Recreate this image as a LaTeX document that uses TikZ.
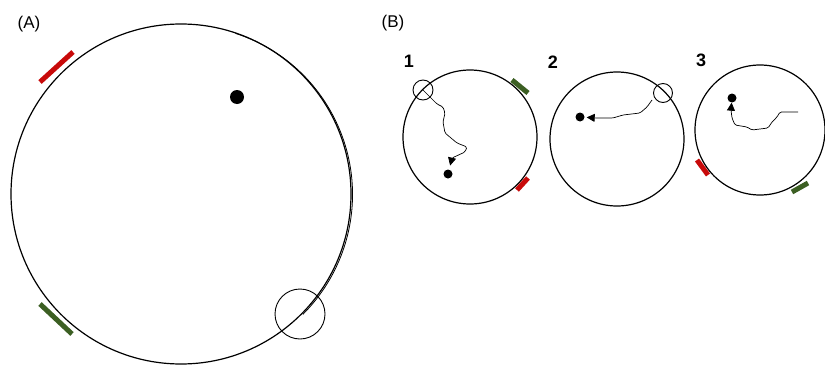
\documentclass[tikz,border=0pt]{standalone}
\usepackage{fontspec}
\setmainfont{Liberation Sans}
\usetikzlibrary{arrows.meta}
\begin{document}
\begin{tikzpicture}[x=1pt,y=-1pt,
  ring/.style={circle,draw,line width=1.2pt,inner sep=0pt},
  marker/.style={circle,draw,line width=0.9pt,inner sep=0pt},
  dot/.style={circle,fill=black,inner sep=0pt},
  redbar/.style={line width=5pt,draw={rgb,255:red,200;green,10;blue,10}},
  greenbar/.style={line width=5pt,draw={rgb,255:red,60;green,95;blue,35}},
  track/.style={line width=0.7pt,rounded corners=1.5pt},
  lbl/.style={font=\fontsize{17}{19}\selectfont},
  num/.style={font=\fontsize{18}{20}\selectfont\bfseries},
  tip/.style={-{Triangle[length=8pt,width=8pt]}}]
\useasboundingbox (0,0) rectangle (825,367);
% Panel A
\node[lbl] (la) at (29,24) {(A)};
\node[ring,minimum size=340pt] (bigA) at (181,194) {};
\draw[line width=0.8pt] (183,194.5) ++(-72:169.5) arc[start angle=-72,end angle=45,radius=169.5];
\draw[redbar] (40,82) -- (73,52);
\draw[greenbar] (40,304) -- (72,334);
\node[dot,minimum size=14pt] (dA) at (237,97) {};
\node[marker,minimum size=50pt] (mA) at (300,314) {};
% Panel B
\node[lbl] (lb) at (393,23) {(B)};
% 1
\node[num] (n1) at (409,61) {1};
\node[ring,minimum size=134pt] (c1) at (470,137) {};
\draw[greenbar] (512,80) -- (528,93);
\draw[redbar] (517,190) -- (528,178);
\node[marker,minimum size=20pt] (m1) at (423,90) {};
\node[dot,minimum size=9pt] (d1) at (448,174) {};
\draw[track,tip,shorten >=4pt] (m1.center) -- (430,97) -- (437,104) -- (443,107) -- (445,113) -- (443,122) -- (445,133) -- (457,143) -- (467,147) -- (465,152) -- (452,158) -- (d1);
% 2
\node[num] (n2) at (553,62) {2};
\node[ring,minimum size=134pt] (c2) at (617,139) {};
\node[marker,minimum size=19pt] (m2) at (663,93) {};
\node[dot,minimum size=9pt] (d2) at (580,117) {};
\draw[track,tip,shorten >=2pt] (652,100) -- (647,107) -- (640,113) -- (623,115) -- (613,118) -- (597,118) -- (d2);
% 3
\node[num] (n3) at (701,60) {3};
\node[ring,minimum size=130pt] (c3) at (760,130) {};
\draw[redbar] (697,160) -- (708,175);
\draw[greenbar] (792,192) -- (808,183);
\node[dot,minimum size=9pt] (d3) at (732,98) {};
\coordinate (s3) at (798,112);
\draw[track,tip,shorten >=0pt] (s3) -- (780,112) -- (777,117) -- (772,122) -- (768,128) -- (752,130) -- (747,127) -- (735,125) -- (732,118) -- (731,110) -- (d3);
\end{tikzpicture}
\end{document}
